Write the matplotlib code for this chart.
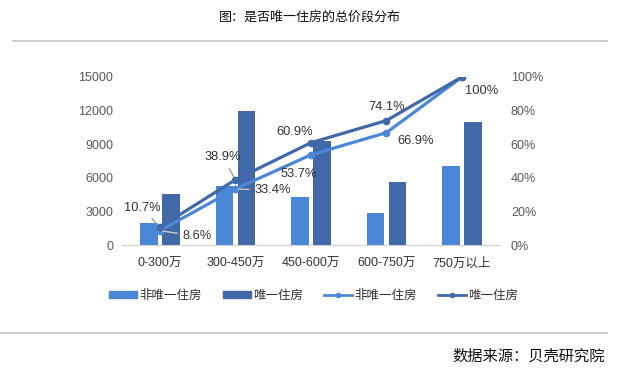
import numpy as np
import matplotlib
matplotlib.use("Agg")
from matplotlib import pyplot as plt
from matplotlib.lines import Line2D
from matplotlib.patches import Patch

plt.rcParams['font.family'] = ['Liberation Sans', 'Noto Sans CJK SC', 'DejaVu Sans']

categories = ['0-300万', '300-450万', '450-600万', '600-750万', '750万以上']
non_only_count = [1950, 5300, 4300, 2900, 7050]
only_count = [4550, 11950, 9300, 5650, 10980]
non_only_cum = [8.6, 33.4, 53.7, 66.9, 100]
only_cum = [10.7, 38.9, 60.9, 74.1, 100]

light = '#4a87d6'
dark = '#4169a7'
grey = '#595959'

fig = plt.figure(figsize=(6.2, 3.83), dpi=100)
ax = fig.add_axes([0.197, 0.36, 0.609, 0.439])
ax2 = ax.twinx()

x = np.arange(len(categories))
w = 0.23
ax.bar(x - 0.145, non_only_count, w, color=light, zorder=2)
ax.bar(x + 0.145, only_count, w, color=dark, zorder=2)
ax.set_xlim(-0.5, 4.5)
ax.set_ylim(0, 15000)
ax.set_yticks(np.arange(0, 15001, 3000))
ax.set_xticks(x)
ax.set_xticklabels(categories)

ax2.plot(x, non_only_cum, color=light, lw=2.3, marker='o', ms=4.5, zorder=3)
ax2.plot(x, only_cum, color=dark, lw=2.3, marker='o', ms=4.5, zorder=4)
ax2.set_ylim(0, 100)
ax2.set_yticks(np.arange(0, 101, 20))
ax2.set_yticklabels([f'{v}%' for v in range(0, 101, 20)])

for a in (ax, ax2):
    for s in a.spines.values():
        s.set_visible(False)
    a.tick_params(length=0, labelsize=9, labelcolor=grey)
ax.spines['bottom'].set_visible(True)
ax.spines['bottom'].set_color('#d0d0d0')
ax.tick_params(axis='x', pad=9, labelsize=9, labelcolor='#333333')
ax.tick_params(axis='y', pad=6.5)
ax2.tick_params(axis='y', pad=8)

# percent labels (offsets in points from the data point)
lab = dict(fontsize=9.3, color='#333333', ha='center', va='center')
ax2.annotate('10.7%', (0, only_cum[0]), xytext=(-13, 14), textcoords='offset points',
             arrowprops=dict(arrowstyle='-', color='#a0a0a0', lw=1), **lab)
ax2.annotate('8.6%', (0, non_only_cum[0]), xytext=(27, -4), textcoords='offset points',
             arrowprops=dict(arrowstyle='-', color='#c8c8c8', lw=1), **lab)
ax2.annotate('38.9%', (1, only_cum[1]), xytext=(-9, 16), textcoords='offset points',
             arrowprops=dict(arrowstyle='-', color='#a0a0a0', lw=1), **lab)
ax2.annotate('33.4%', (1, non_only_cum[1]), xytext=(27, -1), textcoords='offset points',
             arrowprops=dict(arrowstyle='-', color='#c8c8c8', lw=1), **lab)
ax2.annotate('60.9%', (2, only_cum[2]), xytext=(-12, 8), textcoords='offset points', **lab)
ax2.annotate('53.7%', (2, non_only_cum[2]), xytext=(-9, -14), textcoords='offset points', **lab)
ax2.annotate('74.1%', (3, only_cum[3]), xytext=(0, 10), textcoords='offset points', **lab)
ax2.annotate('66.9%', (3, non_only_cum[3]), xytext=(21, -6), textcoords='offset points', **lab)
ax2.annotate('100%', (4, only_cum[4]), xytext=(14, -10), textcoords='offset points', **lab)

handles = [
    Patch(color=light, label='非唯一住房'),
    Patch(color=dark, label='唯一住房'),
    Line2D([], [], color=light, lw=2, marker='o', ms=3, label='非唯一住房'),
    Line2D([], [], color=dark, lw=2, marker='o', ms=3, label='唯一住房'),
]
fig.legend(handles=handles, loc='center', bbox_to_anchor=(0.506, 0.227), ncol=4,
           frameon=False, fontsize=9, handlelength=2.2, handleheight=0.5,
           handletextpad=0.2, columnspacing=1.7, labelcolor='#333333')

fig.text(0.5, 0.955, '图：是否唯一住房的总价段分布', ha='center', va='center',
         fontsize=9.4, color='#111111')
fig.add_artist(Line2D([0.021, 0.979], [0.893, 0.893], color='#c4c4c4', lw=1.2))
fig.add_artist(Line2D([0.0, 0.979], [0.131, 0.131], color='#c4c4c4', lw=1.2))
fig.text(0.976, 0.068, '数据来源：贝壳研究院', ha='right', va='center',
         fontsize=11, color='#111111')

fig.savefig('out.png', dpi=100)
